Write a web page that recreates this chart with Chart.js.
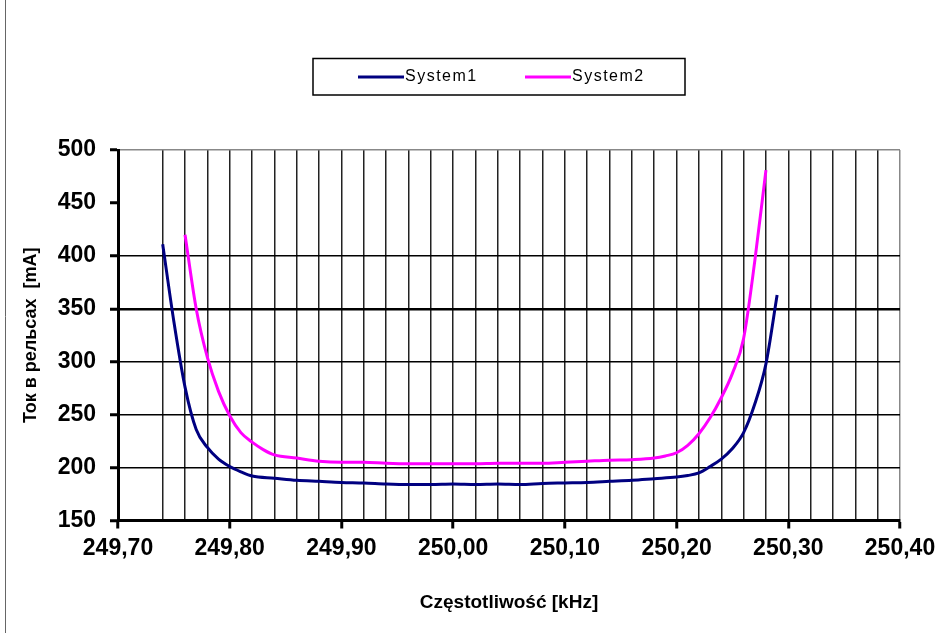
<!DOCTYPE html>
<html>
<head>
<meta charset="utf-8">
<script src="https://cdn.jsdelivr.net/npm/chart.js@4.4.1/dist/chart.umd.min.js"></script>
<style>
  html, body { margin: 0; padding: 0; background: #fff; }
  #wrap { width: 938px; height: 633px; position: relative; }
</style>
</head>
<body>
<div id="wrap"><canvas id="myChart" width="938" height="633"></canvas></div>
<script>
// Frequencies [kHz] and currents [mA]
const freq1 = [249.74, 249.75, 249.76, 249.77, 249.78, 249.79, 249.80, 249.81, 249.82, 249.84,
               249.86, 249.88, 249.90, 249.92, 249.94, 249.96, 249.98, 250.00, 250.02, 250.04,
               250.06, 250.08, 250.10, 250.12, 250.14, 250.16, 250.18, 250.20, 250.21, 250.22,
               250.23, 250.24, 250.25, 250.26, 250.27, 250.28, 250.29];
const system1 = [411, 338, 276, 236, 219, 208, 201, 196, 192, 190,
                 188, 187, 186, 185.5, 184.5, 184, 184, 184.5, 184, 184.5,
                 184, 185, 185.5, 186, 187, 188, 189.5, 191, 192.5, 195,
                 201, 208, 218, 233, 260, 298, 363];

const freq2 = [249.76, 249.77, 249.78, 249.79, 249.80, 249.81, 249.82, 249.83, 249.84, 249.86,
               249.88, 249.90, 249.92, 249.94, 249.96, 249.98, 250.00, 250.02, 250.04, 250.06,
               250.08, 250.10, 250.12, 250.14, 250.16, 250.18, 250.19, 250.20, 250.21, 250.22,
               250.23, 250.24, 250.25, 250.26, 250.27, 250.28];
const system2 = [420, 350, 304, 272, 249, 233, 224, 217, 212, 209,
                 206, 205, 205, 204, 203.5, 203.5, 203.5, 203.5, 204, 204,
                 204, 205, 206, 207, 207.5, 209, 211, 214, 221, 232,
                 247, 266, 289, 322, 395, 481];

const seriesNames = ['System1', 'System2'];
const xMin = 249.70, xMax = 250.40, xStep = 0.02;
const yMin = 150, yMax = 500, yStep = 50;

const FONT = "'Liberation Sans', Arial, sans-serif";

function toPoints(xs, ys) {
    return xs.map((x, i) => ({ x: x, y: ys[i] }));
}

function isMajorX(v) {
    return Math.abs(v * 10 - Math.round(v * 10)) < 1e-6;
}

// Boxed legend and the thin frame line on the left
const frameAndLegend = {
    id: 'frameAndLegend',
    afterDraw(chart) {
        const ctx = chart.ctx;
        ctx.save();
        // left frame line
        ctx.strokeStyle = '#666';
        ctx.lineWidth = 1;
        ctx.beginPath();
        ctx.moveTo(5.5, 0);
        ctx.lineTo(5.5, 633);
        ctx.stroke();

        // legend box
        ctx.strokeStyle = '#000';
        ctx.lineWidth = 1.5;
        ctx.strokeRect(313, 58.5, 372, 36.5);

        const items = [{ x: 358 }, { x: 525 }];
        chart.data.datasets.forEach((ds, i) => {
            const lx = items[i].x;
            ctx.strokeStyle = ds.borderColor;
            ctx.lineWidth = 3;
            ctx.beginPath();
            ctx.moveTo(lx, 77);
            ctx.lineTo(lx + 46, 77);
            ctx.stroke();
            ctx.fillStyle = '#000';
            ctx.font = "16px " + FONT;
            ctx.letterSpacing = '1.5px';
            ctx.textBaseline = 'middle';
            ctx.textAlign = 'left';
            ctx.fillText(ds.label, lx + 47, 77);
        });
        ctx.restore();
    }
};

const ctxMain = document.getElementById('myChart').getContext('2d');

const myChart = new Chart(ctxMain, {
    type: 'line',
    data: {
        datasets: [{
            label: seriesNames[0],
            data: toPoints(freq1, system1),
            borderColor: '#000080',
            backgroundColor: '#000080',
            borderWidth: 3,
            pointRadius: 0,
            cubicInterpolationMode: 'monotone'
        }, {
            label: seriesNames[1],
            data: toPoints(freq2, system2),
            borderColor: '#FF00FF',
            backgroundColor: '#FF00FF',
            borderWidth: 3,
            pointRadius: 0,
            cubicInterpolationMode: 'monotone'
        }]
    },
    options: {
        responsive: false,
        animation: false,
        layout: { padding: { left: 0, right: 38, top: 150, bottom: 0 } },
        plugins: {
            legend: { display: false },
            tooltip: { enabled: false }
        },
        scales: {
            x: {
                type: 'linear',
                min: xMin,
                max: xMax,
                afterFit: (scale) => {
                    scale.height = 112.5;
                    scale.paddingLeft = 0;
                    scale.paddingRight = 0;
                },
                border: { color: '#000', width: 3 },
                grid: {
                    color: (c) => (c.tick && Math.abs(c.tick.value - xMax) < 1e-6) ? '#888' : '#222',
                    lineWidth: 1.5,
                    tickLength: 8,
                    tickColor: (c) => (c.tick && isMajorX(c.tick.value)) ? '#000' : 'rgba(0,0,0,0)',
                    tickWidth: 3
                },
                ticks: {
                    stepSize: xStep,
                    autoSkip: false,
                    maxRotation: 0,
                    padding: 6,
                    color: '#000',
                    font: { family: FONT, size: 23, weight: 'bold' },
                    callback: (v) => isMajorX(v) ? v.toFixed(2).replace('.', ',') : ''
                },
                title: {
                    display: true,
                    text: 'Częstotliwość [kHz]',
                    color: '#000',
                    font: { family: FONT, size: 19, weight: 'bold' },
                    padding: { top: 0, bottom: 19 }
                }
            },
            y: {
                min: yMin,
                max: yMax,
                afterFit: (scale) => { scale.width = 118; },
                border: { color: '#000', width: 3 },
                grid: {
                    color: (c) => {
                        const v = c.tick ? c.tick.value : 0;
                        if (v === 450) return 'rgba(0,0,0,0)';
                        if (v === yMax) return '#888';
                        return '#000';
                    },
                    lineWidth: (c) => (c.tick && c.tick.value === 350) ? 2.5 : 1.5,
                    tickLength: 8,
                    tickColor: '#000',
                    tickWidth: 3
                },
                ticks: {
                    stepSize: yStep,
                    padding: 14,
                    color: '#000',
                    font: { family: FONT, size: 23, weight: 'bold' }
                },
                title: {
                    display: true,
                    text: 'Ток в рельсах  [mA]',
                    color: '#000',
                    font: { family: FONT, size: 18, weight: 'bold' },
                    padding: { top: 20, bottom: 0 }
                }
            }
        }
    },
    plugins: [frameAndLegend]
});
</script>
</body>
</html>
